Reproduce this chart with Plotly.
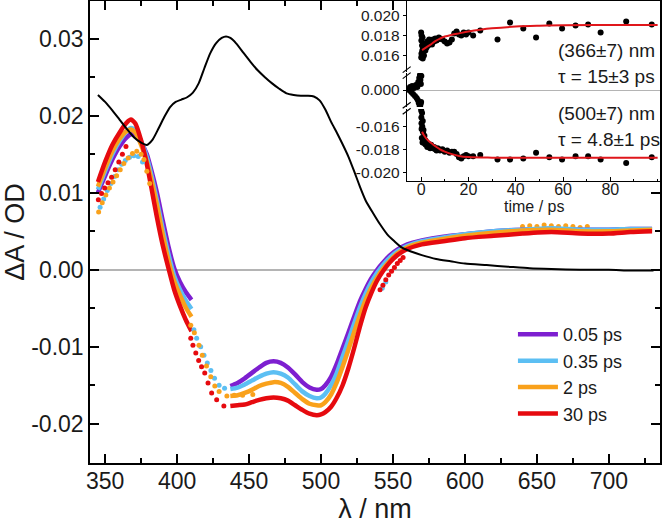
import plotly.graph_objects as go

# ---------------- main panel data ----------------
# black steady-state absorption (scaled)
lam_abs = [345, 350, 355, 360, 365, 370, 375, 379, 383, 387, 391, 395, 399, 403, 407, 411, 415, 419, 423, 427,
           431, 434, 437, 441, 446, 451, 456, 461, 466, 471, 476, 481, 486, 491, 495, 499, 503, 507, 511, 515,
           519, 523, 527, 531, 536, 541, 546, 551, 556, 562, 570, 580, 590, 600, 615, 630, 645, 660, 680, 700,
           715, 731]
absorb = [0.0227, 0.0218, 0.0207, 0.0195, 0.0183, 0.0172, 0.0165, 0.0162, 0.0169, 0.0183,
          0.0198, 0.0211, 0.0218, 0.0221, 0.0224, 0.0230, 0.0242, 0.0262, 0.0281, 0.0294,
          0.0301, 0.0303, 0.0301, 0.0294, 0.0282, 0.0270, 0.0259, 0.0250, 0.0242, 0.0235,
          0.0229, 0.0227, 0.0226, 0.0226, 0.0225, 0.0220, 0.0208, 0.0192, 0.0178, 0.0163,
          0.0147, 0.0128, 0.0108, 0.0090, 0.0074, 0.0059, 0.0046, 0.0037, 0.0029, 0.0024,
          0.0019, 0.0014, 0.0011, 0.0008, 0.0006, 0.0004, 0.0002, 0.0001, 0.0000, 0.0000,
          -0.0001, -0.0001]

# solid part 1 (UV band)
lam_a = [345, 350, 355, 360, 365, 368, 371, 375, 379, 382, 386, 390, 394, 398, 402, 406, 410]
p005_a = [0.0100, 0.0122, 0.0143, 0.0160, 0.0172, 0.0176, 0.0174, 0.0165, 0.0150, 0.0130, 0.0100, 0.0064, 0.0030, 0.0002, -0.0016, -0.0029, -0.0039]
p035_a = [0.0104, 0.0128, 0.0150, 0.0167, 0.0180, 0.0184, 0.0181, 0.0167, 0.0146, 0.0124, 0.0090, 0.0053, 0.0020, -0.0008, -0.0026, -0.0040, -0.0051]
p2_a = [0.0108, 0.0132, 0.0154, 0.0170, 0.0180, 0.0182, 0.0178, 0.0162, 0.0140, 0.0118, 0.0084, 0.0046, 0.0012, -0.0015, -0.0033, -0.0049, -0.0061]
p30_a = [0.0114, 0.0140, 0.0162, 0.0178, 0.0191, 0.0195, 0.0190, 0.0168, 0.0137, 0.0108, 0.0068, 0.0032, 0.0002, -0.0026, -0.0047, -0.0065, -0.0080]

# solid part 2 (visible band)
lam_b = [437, 442, 447, 452, 457, 462, 467, 472, 477, 482, 487, 492, 497, 500, 503, 507, 511, 515, 519, 523,
         527, 531, 535, 539, 543, 548, 553, 560, 570, 585, 600, 620, 640, 660, 680, 700, 715, 730]
p005_b = [-0.0151, -0.0147, -0.0141, -0.0134, -0.0127, -0.0121, -0.0119, -0.0121, -0.0127, -0.0136,
          -0.0146, -0.0153, -0.0156, -0.0155, -0.0150, -0.0139, -0.0122, -0.0102, -0.0082, -0.0061,
          -0.0041, -0.0025, -0.0011, 0.0000, 0.0009, 0.0019, 0.0026, 0.0033, 0.0038, 0.0043,
          0.0046, 0.0050, 0.0052, 0.0053, 0.0052, 0.0052, 0.0053, 0.0053]
p035_b = [-0.0155, -0.0153, -0.0149, -0.0144, -0.0139, -0.0135, -0.0133, -0.0135, -0.0140, -0.0149,
          -0.0158, -0.0164, -0.0167, -0.0166, -0.0161, -0.0150, -0.0134, -0.0113, -0.0092, -0.0070,
          -0.0049, -0.0031, -0.0016, -0.0004, 0.0006, 0.0016, 0.0024, 0.0031, 0.0037, 0.0042,
          0.0046, 0.0050, 0.0052, 0.0054, 0.0052, 0.0052, 0.0053, 0.0053]
p2_b = [-0.0164, -0.0163, -0.0160, -0.0156, -0.0151, -0.0148, -0.0146, -0.0147, -0.0152, -0.0160,
        -0.0168, -0.0174, -0.0176, -0.0176, -0.0172, -0.0162, -0.0146, -0.0126, -0.0104, -0.0081,
        -0.0059, -0.0039, -0.0023, -0.0010, 0.0001, 0.0012, 0.0021, 0.0029, 0.0035, 0.0040,
        0.0044, 0.0048, 0.0051, 0.0052, 0.0050, 0.0050, 0.0051, 0.0052]
p30_b = [-0.0177, -0.0176, -0.0175, -0.0172, -0.0169, -0.0167, -0.0166, -0.0167, -0.0170, -0.0176,
         -0.0182, -0.0187, -0.0189, -0.0188, -0.0185, -0.0178, -0.0166, -0.0150, -0.0128, -0.0102,
         -0.0074, -0.0049, -0.0030, -0.0014, -0.0002, 0.0010, 0.0019, 0.0027, 0.0033, 0.0037,
         0.0041, 0.0044, 0.0047, 0.0049, 0.0047, 0.0047, 0.0049, 0.0050]

# dotted (scattered-light affected) points
dot_blue_x = [346.5, 349, 351.5, 354, 356.5, 359, 361.5, 364, 367, 370, 373, 376,
              411.7, 413.6, 416.4, 418.7, 421, 423.5, 426, 429.2, 433, 542.5, 545]
dot_blue_y = [0.0081, 0.0092, 0.0103, 0.0112, 0.0121, 0.0130, 0.0137, 0.0142, 0.0146, 0.0148, 0.0147, 0.0140,
              -0.0078, -0.0089, -0.0100, -0.0111, -0.0121, -0.0131, -0.0141, -0.0150, -0.0154, -0.0024, -0.0016]
dot_orange_x = [345.5, 348, 350.5, 353, 355.5, 358, 360.5, 363, 366, 369, 372, 375, 377, 379, 381,
                409.5, 412, 415.2, 417.5, 420.4, 423.4, 426.2, 429.2, 434.6, 439.7, 445.5, 452.6,
                640, 645, 650, 655, 660, 665, 670, 675, 680, 685]
dot_orange_y = [0.0075, 0.0087, 0.0097, 0.0106, 0.0114, 0.0122, 0.0130, 0.0138, 0.0145, 0.0151, 0.0154, 0.0150, 0.0143, 0.0128, 0.0112,
                -0.0072, -0.0082, -0.0098, -0.0111, -0.0125, -0.0139, -0.0151, -0.0158, -0.0164, -0.0163, -0.0163, -0.0162,
                0.0056, 0.0057, 0.0056, 0.0058, 0.0057, 0.0056, 0.0057, 0.0056, 0.0055, 0.0056]
dot_red_x = [345.3, 347.5, 349.7, 352, 354.5, 357, 359.5, 362, 364.5,
             409.5, 411, 413, 415, 417, 419.2, 421.5, 424, 427.5, 432.5,
             541, 543, 545, 547, 549, 551, 553, 555, 557]
dot_red_y = [0.0091, 0.0099, 0.0106, 0.0113, 0.0120, 0.0130, 0.0140, 0.0150, 0.0160,
             -0.0089, -0.0098, -0.0108, -0.0118, -0.0126, -0.0134, -0.0147, -0.0160, -0.0169, -0.0177,
             -0.0026, -0.0020, -0.0013, -0.0007, -0.0002, 0.0003, 0.0008, 0.0012, 0.0016]

delays = ["0.05 ps", "0.35 ps", "2 ps", "30 ps"]
colors = ["#7d1fd0", "#5cbff3", "#f9a11b", "#e60a0f"]

x_ticks = [350, 400, 450, 500, 550, 600, 650, 700]
y_ticks = [-0.02, -0.01, 0.00, 0.01, 0.02, 0.03]
y_ticktext = ["-0.02", "-0.01", "0.00", "0.01", "0.02", "0.03"]

# ---------------- inset data ----------------
t_pre = [-5.2, -4.7, -4.2, -3.8, -3.4, -3.0, -2.6, -2.2, -1.9, -1.6, -1.4, -1.2, -1.0, -0.8, -0.6,
         -0.5, -0.4, -0.3, -0.2, -0.1, 0.0, 0.1]
v_pre = [0.0000, 0.0003, -0.0002, 0.0004, -0.0004, 0.0002, -0.0006, 0.0005, -0.0008, 0.0003, -0.0010,
         0.0008, -0.0013, 0.0012, -0.0016, 0.0015, -0.0017, 0.0010, -0.0014, 0.0006, -0.0012, 0.0014]

t_kin = [0.0, 0.05, 0.1, 0.15, 0.2, 0.3, 0.4, 0.5, 0.6, 0.7, 0.8, 0.9, 1.0, 1.2, 1.4, 1.6, 1.8, 2.0, 2.3, 2.6,
         3.0, 3.4, 3.8, 4.2, 4.6, 5.0, 5.5, 6.0, 6.5, 7.0, 7.5, 8.0, 9.0, 10.0, 11.0, 12.0, 13.0, 14.0, 15.0, 16.0,
         17.0, 18.0, 19.0, 20.0, 22.0, 25.0, 32.3, 37.6, 43.2, 48.6, 54.2, 59.6, 65.3, 70.6, 75.9, 86.7, 97.5]
k366 = [0.0183, 0.0158, 0.0175, 0.0162, 0.0180, 0.0160, 0.0170, 0.0165, 0.0178, 0.0157,
        0.0168, 0.0163, 0.0172, 0.0160, 0.0167, 0.0170, 0.0165, 0.0172, 0.0168, 0.0174,
        0.0170, 0.0176, 0.0172, 0.0175, 0.0171, 0.0176, 0.0174, 0.0177, 0.0175, 0.0176,
        0.0178, 0.0177, 0.0176, 0.0174, 0.0172, 0.0173, 0.0176, 0.0182, 0.0184, 0.0181,
        0.0180, 0.0183, 0.0181, 0.0183, 0.0180, 0.0185, 0.0176, 0.0193, 0.0187, 0.0178,
        0.0192, 0.0187, 0.0190, 0.0191, 0.0183, 0.0194, 0.0191]
k500 = [-0.0144, -0.0146, -0.0152, -0.0157, -0.0162, -0.0170, -0.0148, -0.0160, -0.0174, -0.0155,
        -0.0165, -0.0172, -0.0163, -0.0170, -0.0168, -0.0175, -0.0172, -0.0176, -0.0174, -0.0178,
        -0.0175, -0.0177, -0.0179, -0.0176, -0.0178, -0.0179, -0.0178, -0.0180, -0.0181, -0.0179,
        -0.0180, -0.0181, -0.0180, -0.0182, -0.0181, -0.0183, -0.0182, -0.0182, -0.0184, -0.0187,
        -0.0188, -0.0186, -0.0185, -0.0186, -0.0186, -0.0185, -0.0189, -0.0189, -0.0188, -0.0183,
        -0.0187, -0.0189, -0.0186, -0.0186, -0.0189, -0.0192, -0.0187]

t_fit366 = [0.4, 2, 4, 6, 8, 10, 13, 16, 20, 25, 30, 40, 50, 60, 80, 100]
fit366 = [0.01655, 0.0168, 0.0171, 0.01745, 0.0177, 0.0179, 0.01808, 0.01822, 0.01840, 0.01858,
          0.01872, 0.01890, 0.01898, 0.01902, 0.01905, 0.01905]
t_fit500 = [0.4, 1, 2, 3, 4, 5, 6, 8, 10, 13, 16, 20, 30, 50, 100]
fit500 = [-0.01645, -0.01670, -0.01700, -0.01722, -0.01740, -0.01757, -0.01772, -0.01800, -0.01820,
          -0.01842, -0.01858, -0.01868, -0.01873, -0.01873, -0.01873]

FONT = "Liberation Sans, Arial, sans-serif"

fig = go.Figure()

for name, col, vals in zip(delays, colors, [p005_a, p035_a, p2_a, p30_a]):
    fig.add_trace(go.Scatter(x=lam_a, y=vals, mode="lines", showlegend=False,
                             line=dict(color=col, width=4.5, shape="spline", smoothing=0.6)))

for dx, dy, col in [(dot_blue_x, dot_blue_y, colors[1]), (dot_orange_x, dot_orange_y, colors[2]),
                    (dot_red_x, dot_red_y, colors[3])]:
    fig.add_trace(go.Scatter(x=dx, y=dy, mode="markers", showlegend=False,
                             marker=dict(color=col, size=5)))

for name, col, vals in zip(delays, colors, [p005_b, p035_b, p2_b, p30_b]):
    fig.add_trace(go.Scatter(x=lam_b, y=vals, mode="lines", name=name,
                             line=dict(color=col, width=4.5, shape="spline", smoothing=0.6)))

fig.add_trace(go.Scatter(x=lam_abs, y=absorb, mode="lines", showlegend=False,
                         line=dict(color="black", width=2, shape="spline", smoothing=0.6)))

# inset traces
dot = dict(color="black", size=6)
fig.add_trace(go.Scatter(x=t_kin, y=k366, mode="markers", marker=dot, showlegend=False,
                         xaxis="x2", yaxis="y2"))
fig.add_trace(go.Scatter(x=t_fit366, y=fit366, mode="lines", showlegend=False,
                         line=dict(color="#e0161b", width=2, shape="spline"), xaxis="x2", yaxis="y2"))
fig.add_trace(go.Scatter(x=t_pre, y=v_pre, mode="markers", marker=dot, showlegend=False,
                         xaxis="x2", yaxis="y3"))
fig.add_trace(go.Scatter(x=t_kin, y=k500, mode="markers", marker=dot, showlegend=False,
                         xaxis="x2", yaxis="y4"))
fig.add_trace(go.Scatter(x=t_fit500, y=fit500, mode="lines", showlegend=False,
                         line=dict(color="#e0161b", width=2, shape="spline"), xaxis="x2", yaxis="y4"))

axis_common = dict(showline=True, linecolor="black", linewidth=1.5, mirror="ticks", automargin=False,
                   ticks="inside", tickcolor="black", tickwidth=1.5, ticklen=9,
                   showgrid=False, tickfont=dict(family=FONT, size=23, color="#1a1a1a"))

fig.update_layout(
    width=666, height=529,
    margin=dict(l=90, r=6, t=1, b=66),
    paper_bgcolor="white", plot_bgcolor="white",
    font=dict(family=FONT, color="#1a1a1a"),
    xaxis=dict(range=[339.5, 735.5], tickvals=x_ticks, zeroline=False,
               minor=dict(dtick=25, tick0=350, ticks="inside", ticklen=5, tickcolor="black", tickwidth=1.5),
               title=dict(text="λ / nm", font=dict(family=FONT, size=27), standoff=4),
               ticklabelstandoff=-3, **axis_common),
    yaxis=dict(range=[-0.0251, 0.0349], tickvals=y_ticks, ticktext=y_ticktext,
               zeroline=True, zerolinecolor="#b4b4b4", zerolinewidth=2,
               minor=dict(dtick=0.005, tick0=0, ticks="inside", ticklen=5, tickcolor="black", tickwidth=1.5),
               title=dict(text="ΔA / OD", font=dict(family=FONT, size=27), standoff=2),
               ticklabelstandoff=0, **axis_common),
    xaxis2=dict(domain=[0.556, 1.0], anchor="y4", range=[-6, 101], tickvals=[0, 20, 40, 60, 80],
                showline=True, linecolor="black", linewidth=1.2, ticks="inside", ticklen=4,
                tickcolor="black", showgrid=False, zeroline=False, automargin=False,
                minor=dict(dtick=10, ticks="inside", ticklen=2, tickcolor="black"),
                tickfont=dict(family=FONT, size=16), ticklabelstandoff=-6),
    yaxis2=dict(domain=[0.846, 1.0], anchor="x2", range=[0.01435, 0.02145],
                tickvals=[0.016, 0.018, 0.020], ticktext=["0.016", "0.018", "0.020"]),
    yaxis3=dict(domain=[0.7706, 0.844], anchor="x2", range=[-0.0017, 0.0017],
                tickvals=[0.0], ticktext=["0.000"], zeroline=True, zerolinecolor="#b4b4b4", zerolinewidth=1.2),
    yaxis4=dict(domain=[0.610, 0.766], anchor="x2", range=[-0.0208, -0.01446],
                tickvals=[-0.020, -0.018, -0.016], ticktext=["-0.020", "-0.018", "-0.016"]),
    legend=dict(x=0.742, y=0.318, xanchor="left", yanchor="top", bgcolor="rgba(0,0,0,0)",
                font=dict(family=FONT, size=18), tracegroupgap=0, itemwidth=40),
)

for ax in ["yaxis2", "yaxis3", "yaxis4"]:
    fig.layout[ax].update(showline=True, linecolor="black", linewidth=1.2, ticks="outside", ticklen=3,
                          tickcolor="black", showgrid=False, automargin=False,
                          tickfont=dict(family=FONT, size=15.5))

# axis-break marks on the inset's left axis
bx = 0.5556
for by in [0.845, 0.768]:
    for off in [-3.0, 3.0]:
        fig.add_shape(type="line", xref="paper", yref="paper",
                      x0=bx - 4 / 570, x1=bx + 4 / 570,
                      y0=by + (off - 3) / 462, y1=by + (off + 3) / 462,
                      line=dict(color="black", width=1.2))

ann_font = dict(family=FONT, size=19, color="#1a1a1a")
for txt, ypx in [("(366±7) nm", 50), ("τ = 15±3 ps", 77), ("(500±7) nm", 113), ("τ = 4.8±1 ps", 139)]:
    fig.add_annotation(text=txt, xref="paper", yref="paper", x=(556 - 90) / 570, y=(463 - ypx) / 462,
                       xanchor="left", yanchor="middle", showarrow=False, font=ann_font)

# inset x-axis title
fig.add_annotation(text="time / ps", xref="paper", yref="paper", x=(534 - 90) / 570, y=(463 - 206) / 462,
                   xanchor="center", yanchor="middle", showarrow=False, font=dict(family=FONT, size=16))

fig.write_html("out.html", config={"displayModeBar": False},
               post_script="document.body.style.margin='0';")
